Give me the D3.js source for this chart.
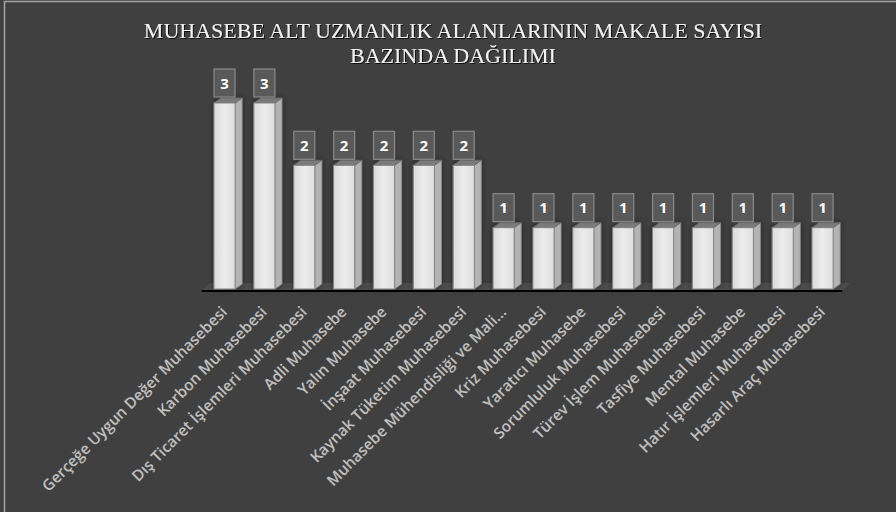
<!DOCTYPE html>
<html><head><meta charset="utf-8">
<script src="https://cdn.jsdelivr.net/npm/d3@7"></script>
<style>html,body{margin:0;padding:0;background:#404040;}svg{display:block;}</style>
</head><body>
<svg id="c" width="896" height="512"></svg>
<script>
const categories = ["Gerçeğe Uygun Değer Muhasebesi","Karbon Muhasebesi","Dış Ticaret İşlemleri Muhasebesi","Adli Muhasebe","Yalın Muhasebe","İnşaat Muhasebesi","Kaynak Tüketim Muhasebesi","Muhasebe Mühendisliği ve Mali...","Kriz Muhasebesi","Yaratıcı Muhasebe","Sorumluluk Muhasebesi","Türev İşlem Muhasebesi","Tasfiye Muhasebesi","Mental Muhasebe","Hatır İşlemleri Muhasebesi","Hasarlı Araç Muhasebesi"];
const values = [3,3,2,2,2,2,2,1,1,1,1,1,1,1,1,1];
const titleLines = ["MUHASEBE ALT UZMANLIK ALANLARININ MAKALE SAYISI","BAZINDA DAĞILIMI"];

const svg = d3.select("#c");
const defs = svg.append("defs");
const g1 = defs.append("linearGradient").attr("id","front").attr("x1","0").attr("x2","1").attr("y1","0").attr("y2","0");
g1.append("stop").attr("offset","0").attr("stop-color","#dadada");
g1.append("stop").attr("offset","0.5").attr("stop-color","#ececec");
g1.append("stop").attr("offset","1").attr("stop-color","#dedede");
const f = defs.append("filter").attr("id","sh").attr("x","-50%").attr("y","-50%").attr("width","200%").attr("height","200%");
f.append("feDropShadow").attr("dx",0).attr("dy",0).attr("stdDeviation",3).attr("flood-color","#000").attr("flood-opacity",0.45);
const ft = defs.append("filter").attr("id","tsh");
ft.append("feDropShadow").attr("dx",1).attr("dy",1).attr("stdDeviation",0.6).attr("flood-color","#000").attr("flood-opacity",0.8);

svg.append("rect").attr("x",0).attr("y",0).attr("width",896).attr("height",512).attr("fill","#404040");
svg.append("rect").attr("x",4.5).attr("y",1.5).attr("width",950).attr("height",600).attr("fill","none").attr("stroke","#a6a6a6").attr("stroke-width",1.5);

const x = d3.scaleBand().domain(categories).range([204.8, 842.3]).paddingInner(0.47).paddingOuter(0.23);
const y = d3.scaleLinear().domain([0,3]).range([290, 103]);
const dx = 7, dy = 5;

// title
const tt = svg.append("text").attr("text-anchor","middle").attr("font-family","Liberation Serif, Times New Roman, serif")
  .attr("font-size",22).attr("fill","#f2f2f2").attr("filter","url(#tsh)");
titleLines.forEach((t,i)=> tt.append("tspan").attr("x",453).attr("y",38+i*25).text(t));

// floor
const fx0 = x.range()[0]-3, fx1 = x.range()[1];
svg.append("path").attr("d",`M${fx0},${y(0)+1}L${fx1},${y(0)+1}L${fx1+dx+1},${y(0)-7}L${fx0+dx+1},${y(0)-7}Z`).attr("fill","#4d4d4d");

// bars
const bars = svg.append("g").selectAll("g").data(categories).join("g").attr("filter","url(#sh)");
bars.each(function(c,i){
  const gg = d3.select(this);
  const x0 = x(c), w = x.bandwidth(), yt = y(values[i]), yb = y(0)-1;
  gg.append("path").attr("d",`M${x0+w},${yt}L${x0+w+dx},${yt-dy}L${x0+w+dx},${yb-dy}L${x0+w},${yb}Z`).attr("fill","#b3b3b3").attr("stroke","#8c8c8c").attr("stroke-width",0.8);
  gg.append("path").attr("d",`M${x0},${yt}L${x0+dx},${yt-dy}L${x0+w+dx},${yt-dy}L${x0+w},${yt}Z`).attr("fill","#7a7a7a").attr("stroke","#6a6a6a").attr("stroke-width",0.8);
  gg.append("rect").attr("x",x0).attr("y",yt).attr("width",w).attr("height",yb-yt).attr("fill","url(#front)").attr("stroke","#858585").attr("stroke-width",1);
});

// axis line
svg.append("line").attr("x1",fx0).attr("x2",fx1).attr("y1",y(0)+1).attr("y2",y(0)+1).attr("stroke","#000").attr("stroke-width",2);

// value labels
const lab = svg.append("g").selectAll("g").data(categories).join("g");
lab.each(function(c,i){
  const gg = d3.select(this);
  const cx = x(c)+x.bandwidth()/2, yt = y(values[i]);
  gg.append("rect").attr("x",cx-10.5).attr("y",yt-34).attr("width",21).attr("height",28).attr("fill","#595959").attr("stroke","#8a8a8a").attr("stroke-width",1.2);
  gg.append("text").attr("x",cx).attr("y",yt-14.5).attr("text-anchor","middle").attr("font-family","Open Sans, sans-serif").attr("font-weight",700).attr("font-size",15).attr("fill","#ffffff").text(values[i]);
});

// category labels
svg.append("g").selectAll("text").data(categories).join("text")
  .attr("transform",c=>`translate(${x(c)+x.bandwidth()/2+3.5},${y(0)+23}) rotate(-45)`)
  .attr("text-anchor","end").attr("font-family","Open Sans, sans-serif").attr("font-weight",600).attr("font-size",15.4)
  .attr("fill","#c0c0c0").text(c=>c);
</script>
</body></html>
